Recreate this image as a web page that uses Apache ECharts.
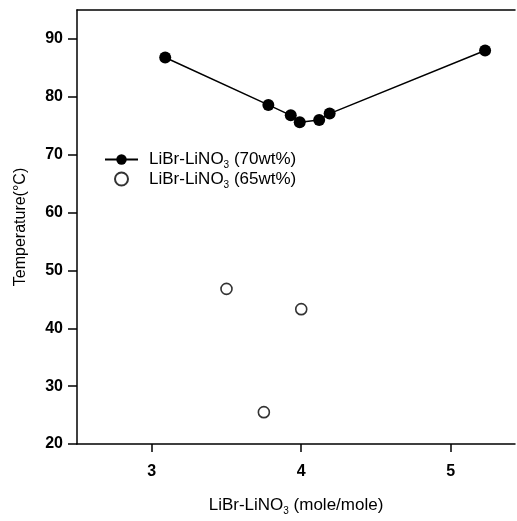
<!DOCTYPE html>
<html>
<head>
<meta charset="utf-8">
<script src="https://cdn.jsdelivr.net/npm/echarts@6/dist/echarts.min.js"></script>
<style>html,body{margin:0;padding:0;background:#fff}#c{width:517px;height:521px}</style>
</head>
<body>
<div id="c"></div>
<script>
const x70 = [3.09, 3.78, 3.93, 3.99, 4.12, 4.19, 5.23];
const y70 = [86.8, 78.6, 76.8, 75.6, 76.0, 77.1, 88.0];
const x65 = [3.50, 4.00, 3.75];
const y65 = [46.8, 43.3, 25.5];
const xTicks = [3, 4, 5];
const yTicks = [20, 30, 40, 50, 60, 70, 80, 90];
const seriesNames = ['70', '65'];

const chart = echarts.init(document.getElementById('c'));
const font = 'Liberation Sans, Arial, sans-serif';
const axisLineStyle = {color: '#000', width: 1.5};
const rich = {
  n: {fontFamily: font, fontSize: 17, color: '#000'},
  s: {fontFamily: font, fontSize: 10, color: '#000', verticalAlign: 'bottom', padding: [12, 0, 0, 0]}
};
chart.setOption({
  animation: false,
  backgroundColor: '#fff',
  grid: {left: 77, right: 2, top: 10, bottom: 72, containLabel: false},
  legend: {
    orient: 'vertical', left: 104, top: 151, padding: 0, itemWidth: 33, itemHeight: 13, itemGap: 0,
    data: seriesNames,
    formatter: n => '{n|LiBr-LiNO}{s|3}{n| (' + n + 'wt%)}',
    textStyle: {rich: rich, padding: [0, 0, 0, 6]}
  },
  xAxis: [{
    type: 'value', min: 2.5, max: 5.43, position: 'bottom',
    axisLine: {show: true, lineStyle: axisLineStyle},
    axisTick: {show: true, length: 8, inside: false, customValues: xTicks, lineStyle: axisLineStyle},
    axisLabel: {customValues: xTicks, margin: 20, fontFamily: font, fontSize: 16, fontWeight: 'bold', color: '#000'},
    splitLine: {show: false},
    name: '{n|LiBr-LiNO}{s|3}{n| (mole/mole)}', nameLocation: 'middle', nameGap: 50,
    nameTextStyle: {rich: rich}
  }, {
    type: 'value', min: 2.5, max: 5.43, position: 'top',
    axisLine: {show: true, onZero: false, lineStyle: axisLineStyle},
    axisTick: {show: false}, axisLabel: {show: false}, splitLine: {show: false}
  }],
  yAxis: {
    type: 'value', min: 20, max: 95,
    axisLine: {show: true, lineStyle: axisLineStyle},
    axisTick: {show: true, length: 9, customValues: yTicks, lineStyle: axisLineStyle},
    axisLabel: {customValues: yTicks, margin: 14, fontFamily: font, fontSize: 16, fontWeight: 'bold', color: '#000'},
    splitLine: {show: false},
    name: 'Temperature(°C)', nameLocation: 'middle', nameRotate: 90, nameGap: 48,
    nameTextStyle: {fontFamily: font, fontSize: 16, color: '#000'}
  },
  series: [{
    name: '70', type: 'line',
    data: x70.map((x, i) => [x, y70[i]]),
    symbol: 'circle', symbolSize: 12,
    itemStyle: {color: '#000'},
    lineStyle: {color: '#000', width: 1.5}
  }, {
    name: '65', type: 'scatter',
    data: x65.map((x, i) => [x, y65[i]]),
    symbol: 'circle', symbolSize: 11,
    itemStyle: {color: '#fff', borderColor: '#000', borderWidth: 1.6}
  }]
});
</script>
</body>
</html>
